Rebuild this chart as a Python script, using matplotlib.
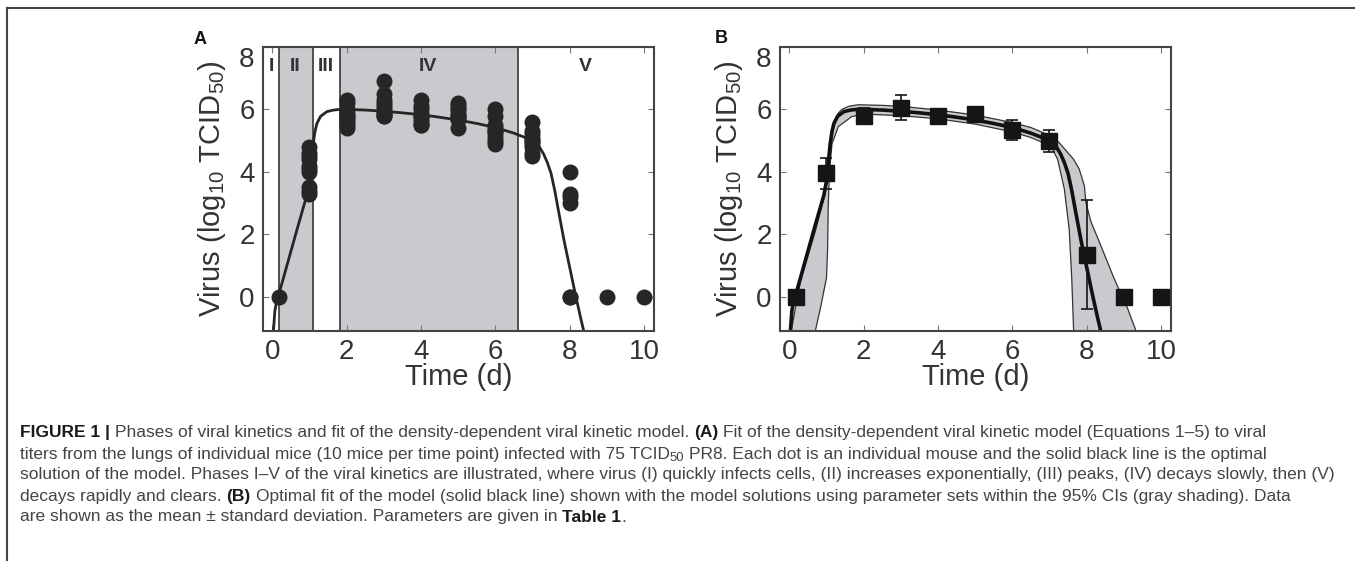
import numpy as np
import matplotlib
matplotlib.use("Agg")
import matplotlib.pyplot as plt
from matplotlib.lines import Line2D
from matplotlib import font_manager
from matplotlib.transforms import ScaledTranslation

# individual mice titers (panel A)
times = [0.17, 1, 2, 3, 4, 5, 6, 7, 8, 9, 10]
titers = [
    [0.0],
    [4.8, 4.6, 4.5, 4.4, 4.2, 4.1, 4.0, 3.5, 3.4, 3.3],
    [6.3, 6.2, 6.0, 5.9, 5.8, 5.8, 5.7, 5.6, 5.5, 5.4],
    [6.9, 6.5, 6.3, 6.2, 6.1, 6.0, 5.9, 5.9, 5.8, 5.8],
    [6.3, 6.1, 6.0, 5.9, 5.8, 5.8, 5.7, 5.6, 5.5, 5.5],
    [6.2, 6.1, 6.0, 6.0, 5.9, 5.8, 5.8, 5.7, 5.7, 5.4],
    [6.0, 5.8, 5.5, 5.4, 5.3, 5.3, 5.2, 5.1, 5.0, 4.9],
    [5.6, 5.3, 5.2, 5.1, 5.0, 5.0, 4.9, 4.8, 4.6, 4.5],
    [4.0, 3.3, 3.2, 3.0, 0.0, 0.0],
    [0.0],
    [0.0],
]

# mean +/- sd (panel B)
mean_v = [0.0, 3.95, 5.8, 6.05, 5.8, 5.85, 5.35, 5.0, 1.35, 0.0, 0.0]
sd_v = [0.0, 0.5, 0.25, 0.4, 0.12, 0.12, 0.32, 0.35, 1.75, 0.0, 0.0]

# model solution
fit_t = [0.03, 0.07, 0.12, 0.17, 0.3, 0.5, 0.7, 0.93, 1.0, 1.05, 1.1, 1.15, 1.2,
         1.3, 1.47, 1.65, 1.82, 2.0, 2.5, 3.0, 3.5, 4.0, 4.5, 5.0, 5.5, 6.0,
         6.5, 6.8, 7.0, 7.1, 7.2, 7.3, 7.4, 7.5, 7.6, 7.7, 7.85, 8.0, 8.15, 8.3, 8.38]
fit_v = [-1.1, -0.45, -0.12, 0.05, 0.6, 1.45, 2.3, 3.25, 3.7, 4.3, 4.9, 5.3, 5.55,
         5.78, 5.93, 5.98, 6.0, 6.0, 5.98, 5.94, 5.89, 5.83, 5.75, 5.66, 5.55, 5.42,
         5.24, 5.1, 4.98, 4.9, 4.77, 4.57, 4.3, 3.95, 3.4, 2.75, 1.8, 0.95, 0.1, -0.7, -1.1]

# 95% CI envelope
ci_hi_t = [0.05, 0.3, 0.7, 0.97, 1.1, 1.19, 1.3, 1.41, 1.6, 1.86, 2.5, 3.0, 4.0, 5.0,
           6.0, 6.5, 7.04, 7.25, 7.49, 7.65, 7.8, 7.94, 7.98, 8.05, 8.12, 8.38, 8.74,
           9.1, 9.33]
ci_hi_v = [-1.1, 0.5, 2.1, 3.35, 4.7, 5.55, 5.85, 6.0, 6.1, 6.15, 6.13, 6.1, 5.98, 5.82,
           5.58, 5.42, 5.15, 4.95, 4.62, 4.4, 4.09, 3.55, 3.03, 2.7, 2.39, 1.64, 0.58,
           -0.37, -1.1]
ci_lo_t = [0.7, 0.85, 1.0, 1.03, 1.05, 1.08, 1.15, 1.32, 1.68, 2.0, 3.0, 4.0, 5.0, 6.0,
           6.5, 7.04, 7.22, 7.4, 7.53, 7.6, 7.65]
ci_lo_v = [-1.1, -0.3, 0.6, 1.5, 3.0, 4.0, 4.9, 5.45, 5.77, 5.85, 5.8, 5.7, 5.53, 5.28,
           5.1, 4.83, 4.4, 3.45, 2.17, 0.58, -1.1]

phase_edges = [0.18, 1.09, 1.82, 6.61]
phase_names = ["I", "II", "III", "IV", "V"]
phase_pos = [-0.03, 0.61, 1.44, 4.2, 8.43]
xticks = [0, 2, 4, 6, 8, 10]
yticks = [0, 2, 4, 6, 8]

W, H = 1355, 561
plt.rcParams['font.family'] = ['Liberation Sans', 'DejaVu Sans']
plt.rcParams['mathtext.fontset'] = 'custom'
plt.rcParams['mathtext.rm'] = 'Liberation Sans'
plt.rcParams['mathtext.it'] = 'Liberation Sans'
plt.rcParams['mathtext.bf'] = 'Liberation Sans:bold'

# condensed face for the caption if there is one
cap_font = 'Liberation Sans'
try:
    font_manager.findfont('Liberation Sans Narrow', fallback_to_default=False)
    cap_font = 'Liberation Sans Narrow'
except Exception:
    pass

fig = plt.figure(figsize=(W / 100, H / 100), dpi=100)
shade = '#c9cacd'
dark = '#262626'
txt = '#333333'


def setup(ax):
    ax.set_xlim(-0.25, 10.27)
    ax.set_ylim(-1.1, 8)
    ax.set_xticks(xticks)
    ax.set_yticks(yticks)
    ax.tick_params(direction='in', top=True, right=True, length=4, width=0.8,
                   color='#777777', labelsize=20, labelcolor=txt, pad=6)
    for s in ax.spines.values():
        s.set_color('#444444')
        s.set_linewidth(1.5)
    ax.set_xlabel('Time (d)', fontsize=21, color=txt, labelpad=-2)
    ax.set_ylabel(r'Virus (log$_{10}$ TCID$_{50}$)', fontsize=21, color=txt, labelpad=8)
    # top label sits a bit lower in the original
    lab = ax.yaxis.get_major_ticks()[-1].label1
    lab.set_transform(lab.get_transform() + ScaledTranslation(0, -0.1, fig.dpi_scale_trans))


# panel A
axA = fig.add_axes([263 / W, 1 - 331 / H, (654 - 263) / W, 284 / H])
setup(axA)
edges = [axA.get_xlim()[0]] + phase_edges + [axA.get_xlim()[1]]
for i in (1, 3):
    axA.axvspan(edges[i], edges[i + 1], color=shade, lw=0, zorder=0)
for e in phase_edges:
    axA.axvline(e, color='#444444', lw=1.3, zorder=1)
for name, p in zip(phase_names, phase_pos):
    axA.text(p, 7.37, name, ha='center', va='center', fontsize=14,
             fontweight='bold', color=txt)
axA.plot(fit_t, fit_v, color=dark, lw=2, zorder=2)
for t, vals in zip(times, titers):
    axA.plot([t] * len(vals), vals, 'o', color=dark, ms=10.5, zorder=3)
axA.text(-0.161, 1.025, 'A', transform=axA.transAxes, fontsize=13, va='center',
         ha='center', fontweight='bold', color='#111111')

# panel B
axB = fig.add_axes([780 / W, 1 - 331 / H, (1171 - 780) / W, 284 / H])
setup(axB)
poly_t = np.concatenate([ci_hi_t, ci_lo_t[::-1]])
poly_v = np.concatenate([ci_hi_v, ci_lo_v[::-1]])
axB.fill(poly_t, poly_v, facecolor=shade, edgecolor='#333333', lw=0.9, zorder=1)
axB.plot(fit_t, fit_v, color='#111111', lw=2.6, zorder=2)
axB.errorbar(times, mean_v, yerr=sd_v, fmt='s', color='#151515', ms=11,
             ecolor='#151515', elinewidth=1.2, capsize=4.5, capthick=1.2, zorder=3)
axB.text(-0.149, 1.03, 'B', transform=axB.transAxes, fontsize=13, va='center',
         ha='center', fontweight='bold', color='#111111')

# frame lines
fig.add_artist(Line2D([7 / W, 1], [1 - 8 / H, 1 - 8 / H], color='#444444', lw=1.5))
fig.add_artist(Line2D([7 / W, 7 / W], [0, 1 - 8 / H], color='#444444', lw=1.5))

# caption
cap = [
    [("FIGURE 1 |", 'b', 0), ("Phases of viral kinetics and fit of the density-dependent viral kinetic model.", 'n', 0),
     ("(A)", 'b', 0), ("Fit of the density-dependent viral kinetic model (Equations 1–5) to viral", 'n', 0)],
    [("titers from the lungs of individual mice (10 mice per time point) infected with 75 TCID", 'n', 0),
     ("50", 'n', 1), ("PR8. Each dot is an individual mouse and the solid black line is the optimal", 'n', 0)],
    [("solution of the model. Phases I–V of the viral kinetics are illustrated, where virus (I) quickly infects cells, (II) increases exponentially, (III) peaks, (IV) decays slowly, then (V)", 'n', 0)],
    [("decays rapidly and clears.", 'n', 0), ("(B)", 'b', 0),
     ("Optimal fit of the model (solid black line) shown with the model solutions using parameter sets within the 95% CIs (gray shading). Data", 'n', 0)],
    [("are shown as the mean ± standard deviation. Parameters are given in", 'n', 0),
     ("Table 1", 'b', 0), (".", 'n', 2)],
]
cap_y = [433, 454, 475, 496, 517]
renderer = fig.canvas.get_renderer()


def width(s, size, weight):
    t = fig.text(0, 0, s, fontsize=size, fontweight=weight, family=cap_font)
    w = t.get_window_extent(renderer).width
    t.remove()
    return w


# pick caption size so the longest line fills the same width
base = 10.0
w3 = width(cap[2][0][0], base, 'normal')
csize = min(base * (1340 - 20) / w3, 13.0)
space = width('x x', csize, 'normal') - width('xx', csize, 'normal')

for line, yy in zip(cap, cap_y):
    x = 20
    for k, (s, kind, flag) in enumerate(line):
        if k > 0 and flag == 0:
            x += space
        wt = 'bold' if kind == 'b' else 'normal'
        col = '#1a1a1a' if kind == 'b' else '#444444'
        size = csize * 0.75 if flag == 1 else csize
        dy = 4 if flag == 1 else 0
        t = fig.text(x / W, 1 - (yy + dy) / H, s, fontsize=size, fontweight=wt,
                     family=cap_font, color=col, va='center', ha='left')
        x += t.get_window_extent(renderer).width

fig.savefig('out.png', dpi=100)
